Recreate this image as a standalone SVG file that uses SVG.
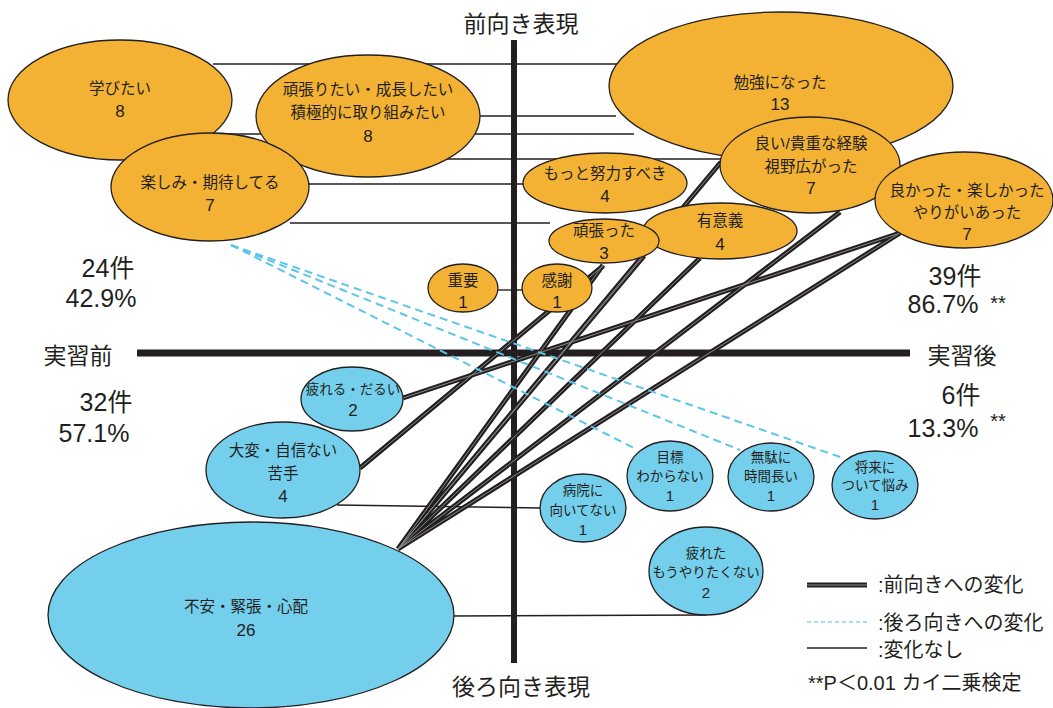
<svg xmlns="http://www.w3.org/2000/svg" width="1053" height="708" viewBox="0 0 1053 708">
<style>
text{font-family:"Liberation Sans","Noto Sans CJK JP",sans-serif;fill:#231F20;text-anchor:middle}
.o{fill:#F3B233;stroke:#231F20;stroke-width:1.3}
.b{fill:#74CFEC;stroke:#231F20;stroke-width:1.3}
.t{font-size:15.5px}
.s{font-size:13.5px}
.n{font-size:17px}
.m{font-size:15px}
.thin{stroke:#231F20;stroke-width:1.4;fill:none}
.fw{stroke:#231F20;stroke-width:5;fill:none}
.fwi{stroke:#8a8a8a;stroke-width:1;fill:none}
.bw{stroke:#5BC6E8;stroke-width:2;stroke-dasharray:8 5;fill:none}
.ax{stroke:#231F20;fill:none}
.big{font-size:25px}
.lab{font-size:23px}
.lg{font-size:20px;text-anchor:start}
</style>
<g id="axes">
<line class="ax" x1="514" y1="40" x2="514" y2="663" stroke-width="6"/>
<line class="ax" x1="137" y1="353" x2="910" y2="353" stroke-width="7"/>
</g>
<g id="connectors">
<g id="no-change">
<line class="thin" x1="213" y1="64" x2="618" y2="64"/>
<line class="thin" x1="470" y1="116" x2="616" y2="116"/>
<line class="thin" x1="195" y1="134" x2="634" y2="134"/>
<line class="thin" x1="393" y1="159" x2="722" y2="159"/>
<line class="thin" x1="300" y1="184" x2="525" y2="184"/>
<line class="thin" x1="290" y1="223" x2="550" y2="223"/>
<line class="thin" x1="497" y1="290" x2="523" y2="290"/>
<line class="thin" x1="337" y1="505" x2="541" y2="508"/>
<line class="thin" x1="450" y1="616" x2="706" y2="615"/>
</g>
<g id="forward">
<path class="fw" d="M403 398L900 233M360 468L603 266M398 549L603 265M398 549L644 256M398 549L700 258M398 549L721 162M398 549L840 212M398 549L900 233"/>
<path class="fwi" d="M403 398L900 233M360 468L603 266M398 549L603 265M398 549L644 256M398 549L700 258M398 549L721 162M398 549L840 212M398 549L900 233"/>
</g>
<g id="backward">
<line class="bw" x1="231" y1="245" x2="634" y2="448"/>
<line class="bw" x1="231" y1="245" x2="740" y2="450"/>
<line class="bw" x1="231" y1="245" x2="843" y2="458"/>
</g>
</g>
<g id="n-manabitai"><ellipse class="o" cx="120" cy="100" rx="112" ry="60"/><text class="t" x="120" y="94">学びたい</text><text class="n" x="120" y="117">8</text></g>
<g id="n-ganbaritai"><ellipse class="o" cx="368" cy="116" rx="112" ry="61"/><text class="t" x="368" y="95">頑張りたい・成長したい</text><text class="t" x="368" y="118">積極的に取り組みたい</text><text class="n" x="368" y="142">8</text></g>
<g id="n-tanoshimi"><ellipse class="o" cx="210" cy="187" rx="99" ry="54"/><text class="t" x="210" y="188">楽しみ・期待してる</text><text class="n" x="210" y="211">7</text></g>
<g id="n-benkyo"><ellipse class="o" cx="781" cy="86" rx="172" ry="74"/><text class="t" x="780" y="88">勉強になった</text><text class="n" x="780" y="110">13</text></g>
<g id="n-yoi"><ellipse class="o" cx="810" cy="165" rx="90" ry="48"/><text class="t" x="811" y="149">良い/貴重な経験</text><text class="t" x="811" y="172">視野広がった</text><text class="n" x="811" y="194">7</text></g>
<g id="n-yokatta"><ellipse class="o" cx="964" cy="200" rx="89" ry="48"/><text class="t" x="967" y="196">良かった・楽しかった</text><text class="t" x="967" y="218">やりがいあった</text><text class="n" x="967" y="240">7</text></g>
<g id="n-motto"><ellipse class="o" cx="605" cy="183" rx="82" ry="30"/><text class="t" x="605" y="179">もっと努力すべき</text><text class="n" x="605" y="202">4</text></g>
<g id="n-yuigi"><ellipse class="o" cx="720" cy="231" rx="77" ry="28"/><text class="t" x="720" y="226">有意義</text><text class="n" x="720" y="250">4</text></g>
<g id="n-ganbatta"><ellipse class="o" cx="604" cy="241" rx="55" ry="22"/><text class="t" x="604" y="236">頑張った</text><text class="n" x="604" y="259">3</text></g>
<g id="n-juyo"><ellipse class="o" cx="463" cy="288" rx="35" ry="24"/><text class="t" x="463" y="286">重要</text><text class="n" x="463" y="308">1</text></g>
<g id="n-kansha"><ellipse class="o" cx="557" cy="288" rx="35" ry="24"/><text class="t" x="557" y="286">感謝</text><text class="n" x="557" y="308">1</text></g>
<g id="n-tsukareru"><ellipse class="b" cx="352" cy="399" rx="51" ry="32"/><text class="s" x="353" y="394">疲れる・だるい</text><text class="n" x="353" y="416">2</text></g>
<g id="n-taihen"><ellipse class="b" cx="283" cy="470" rx="77" ry="48"/><text class="t" x="283" y="456">大変・自信ない</text><text class="t" x="283" y="479">苦手</text><text class="n" x="283" y="502">4</text></g>
<g id="n-fuan"><ellipse class="b" cx="251" cy="615" rx="203" ry="93"/><text class="t" x="246" y="612">不安・緊張・心配</text><text class="n" x="246" y="636">26</text></g>
<g id="n-byoin"><ellipse class="b" cx="583" cy="508" rx="43" ry="34"/><text class="s" x="583" y="495">病院に</text><text class="s" x="583" y="515">向いてない</text><text class="m" x="583" y="535">1</text></g>
<g id="n-mokuhyo"><ellipse class="b" cx="670" cy="476" rx="43" ry="35"/><text class="s" x="670" y="462">目標</text><text class="s" x="670" y="481">わからない</text><text class="m" x="670" y="501">1</text></g>
<g id="n-muda"><ellipse class="b" cx="771" cy="477" rx="43" ry="34"/><text class="s" x="771" y="462">無駄に</text><text class="s" x="771" y="481">時間長い</text><text class="m" x="771" y="501">1</text></g>
<g id="n-shorai"><ellipse class="b" cx="875" cy="485" rx="43" ry="34"/><text class="s" x="875" y="472">将来に</text><text class="s" x="875" y="490">ついて悩み</text><text class="m" x="875" y="510">1</text></g>
<g id="n-tsukareta"><ellipse class="b" cx="706" cy="571" rx="57" ry="44"/><text class="s" x="706" y="558">疲れた</text><text class="s" x="706" y="577">もうやりたくない</text><text class="m" x="706" y="598">2</text></g>
<g id="labels">
<text class="lab" x="521" y="32">前向き表現</text>
<text class="lab" x="521" y="695">後ろ向き表現</text>
<text class="lab" x="78" y="364">実習前</text>
<text class="lab" x="962" y="364">実習後</text>
<text class="big" x="108" y="277">24件</text>
<text class="big" x="101" y="307">42.9%</text>
<text class="big" x="106" y="411">32件</text>
<text class="big" x="94" y="442">57.1%</text>
<text class="big" x="955" y="285">39件</text>
<text class="big" x="943" y="313">86.7%</text>
<text class="big" x="998" y="310" style="font-size:20px">**</text>
<text class="big" x="961" y="404">6件</text>
<text class="big" x="943" y="437">13.3%</text>
<text class="big" x="998" y="428" style="font-size:20px">**</text>
</g>
<g id="legend">
<path class="fw" d="M807 585H867"/><path class="fwi" d="M807 585H867"/>
<text class="lg" x="878" y="592">:前向きへの変化</text>
<line class="bw" x1="807" y1="622" x2="867" y2="622" style="stroke:#8ACFE0;stroke-width:1.5;stroke-dasharray:4 3"/>
<text class="lg" x="878" y="630">:後ろ向きへの変化</text>
<line class="thin" x1="807" y1="648" x2="867" y2="648"/>
<text class="lg" x="878" y="657">:変化なし</text>
<text class="lg" x="808" y="690">**P＜0.01  カイ二乗検定</text>
</g>
</svg>
